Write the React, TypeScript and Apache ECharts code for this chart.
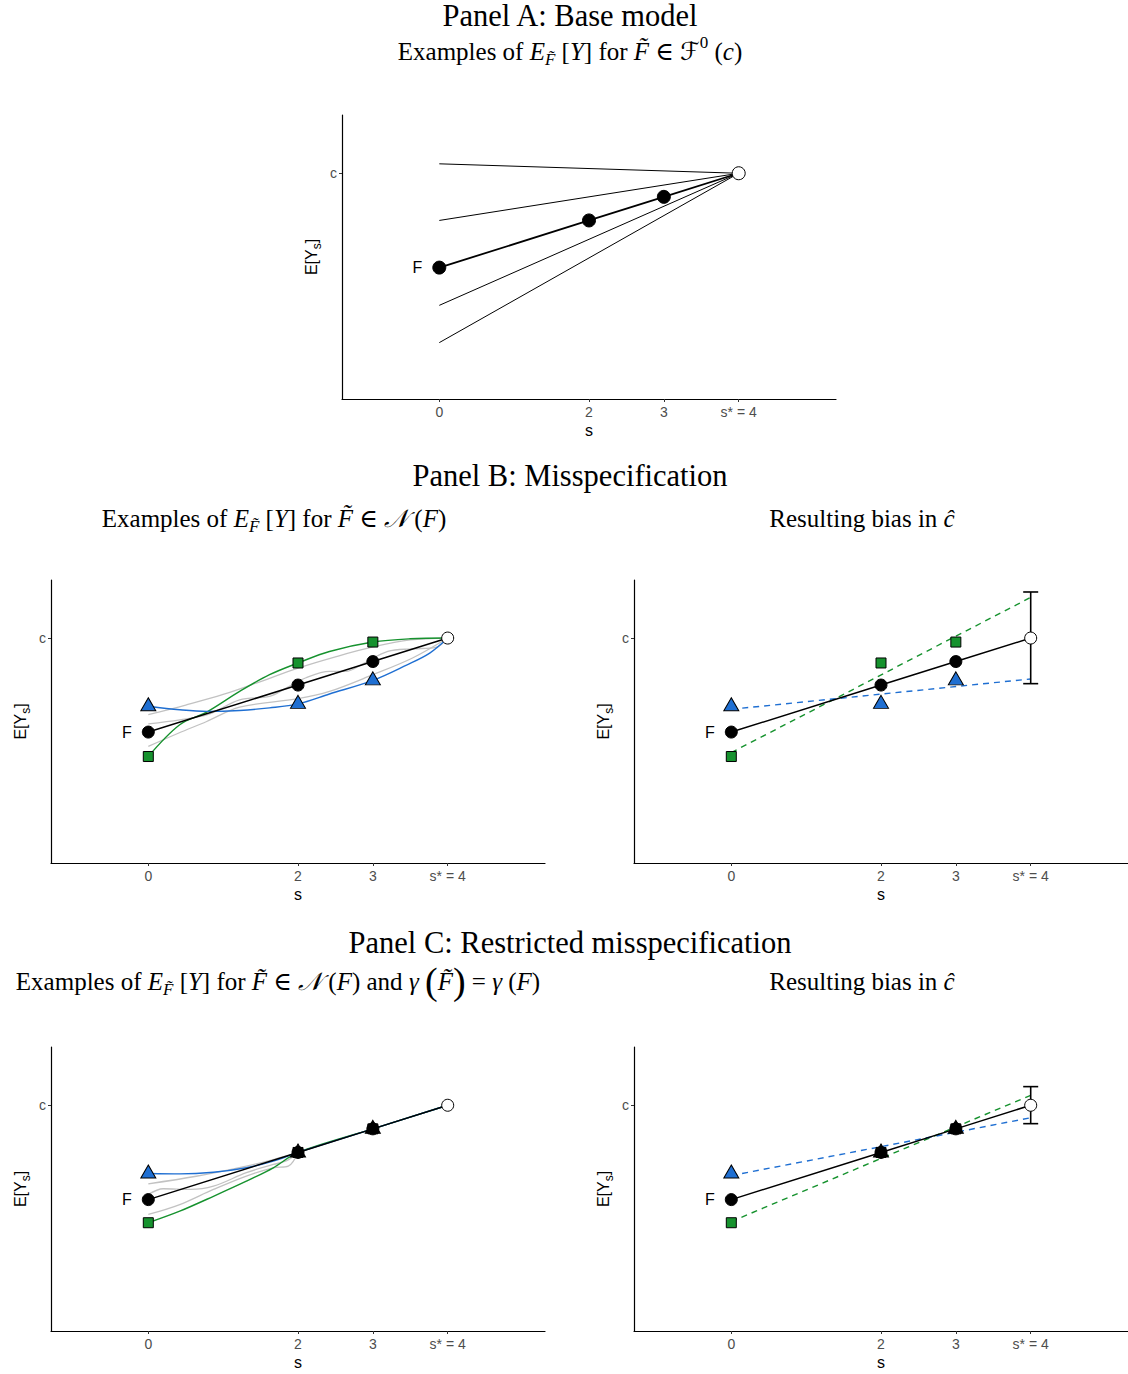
import React, { useEffect, useRef } from "react";
import * as echarts from "echarts";

// ---------- shared scale ----------
const S_TICKS = [0, 2, 3, 4];
const Y_TICKS = [4];
const C_LEVEL = 4;
const X_MIN = -1.3;
const X_MAX = 5.3;
const Y_MIN = -5.57;
const Y_MAX = 6.47;

// ---------- Panel A ----------
const A_F_S = [0, 2, 3, 4];
const A_F_Y = [0, 2, 3, 4];
const A_ALT_START = [4.4, 2.0, -1.6, -3.18];

// ---------- Panel B ----------
const B_F_S = [0, 2, 3, 4];
const B_F_Y = [0, 2, 3, 4];
const B_PT_S = [0, 2, 3];
const B_GREEN_PTS = [-1.04, 2.94, 3.83];
const B_BLUE_PTS = [1.1, 1.2, 2.2];
const B_GREEN_CURVE_S = [0, 0.42, 0.78, 1.22, 1.62, 2, 2.42, 3, 3.5, 4];
const B_GREEN_CURVE_Y = [-1.04, 0.31, 0.85, 1.73, 2.44, 2.94, 3.43, 3.83, 3.97, 4];
const B_BLUE_CURVE_S = [0, 0.42, 0.78, 1.22, 1.62, 2, 2.42, 3, 3.45, 3.76, 4];
const B_BLUE_CURVE_Y = [1.1, 0.95, 0.88, 0.92, 1.03, 1.2, 1.62, 2.2, 2.85, 3.36, 4];
const B_GRAY1_S = [0, 0.5, 1, 1.5, 2, 2.5, 3, 3.5, 4];
const B_GRAY1_Y = [0.74, 1.15, 1.6, 2.15, 2.72, 3.2, 3.62, 3.92, 4];
const B_GRAY2_S = [0, 0.42, 0.8, 1.22, 1.62, 1.84, 2.1, 2.42, 2.64, 2.86, 3.2, 3.53, 3.84, 4];
const B_GRAY2_Y = [0.35, 0.52, 0.75, 1.37, 1.52, 1.87, 2.3, 2.58, 2.58, 2.89, 3.43, 3.54, 3.6, 4];
const B_GRAY3_S = [0, 0.4, 0.78, 1.22, 2, 2.42, 3, 3.53, 4];
const B_GRAY3_Y = [-0.61, -0.05, 0.45, 1.06, 1.42, 1.73, 2.44, 3.15, 4];
const B_BLUE_FIT = [0.97, 2.26];
const B_GREEN_FIT = [-0.87, 5.73];
const B_ERR = [2.06, 5.96];

// ---------- Panel C ----------
const C_F_S = [0, 2, 3, 4];
const C_F_Y = [0, 2, 3, 4];
const C_PT_S = [0, 2, 3];
const C_GREEN_PTS = [-0.98, 2, 3];
const C_BLUE_PTS = [1.11, 2, 3];
const C_BLUE_CURVE_S = [0, 0.42, 0.87, 1.31, 1.67, 2, 3, 4];
const C_BLUE_CURVE_Y = [1.11, 1.09, 1.16, 1.35, 1.63, 2, 3, 4];
const C_GREEN_CURVE_S = [0, 0.42, 0.87, 1.31, 1.67, 2, 3, 4];
const C_GREEN_CURVE_Y = [-0.98, -0.49, 0.14, 0.78, 1.35, 2, 3, 4];
const C_GRAY1_S = [0, 0.64, 1.31, 1.67, 2];
const C_GRAY1_Y = [0.67, 0.99, 1.42, 1.7, 2];
const C_GRAY2_S = [0, 0.2, 0.56, 0.87, 1.31, 1.67, 1.85, 2];
const C_GRAY2_Y = [0.22, 0.46, 0.43, 0.57, 1.14, 1.49, 1.65, 2];
const C_GRAY3_S = [0, 0.42, 0.87, 1.31, 1.67, 1.87, 2];
const C_GRAY3_Y = [-0.63, -0.21, 0.43, 1.0, 1.35, 1.42, 2];
const C_BLUE_FIT = [1.02, 3.47];
const C_GREEN_FIT = [-0.93, 4.42];
const C_ERR = [3.22, 4.79];

// ---------- styles ----------
const SERIF = '"Liberation Serif", "DejaVu Serif", serif';
const SANS = '"Liberation Sans", Arial, Helvetica, sans-serif';
const GREEN = "#16922e";
const BLUE = "#1f6fd2";
const GRAY = "#c2c2c2";

const GRIDS = [
  { left: 342, top: 115, width: 494, height: 284 },
  { left: 51, top: 580, width: 494, height: 283 },
  { left: 634, top: 580, width: 494, height: 283 },
  { left: 51, top: 1047, width: 494, height: 284 },
  { left: 634, top: 1047, width: 494, height: 284 },
];

const zip = (xs: number[], ys: number[]) => xs.map((x, k) => [x, ys[k]]);

function xAxisFor(i: number) {
  return {
    type: "value",
    gridIndex: i,
    min: X_MIN,
    max: X_MAX,
    name: "s",
    nameLocation: "middle",
    nameGap: 23,
    nameTextStyle: { fontSize: 16, color: "#000", fontFamily: SANS },
    axisLine: { show: true, onZero: false, lineStyle: { color: "#000", width: 1.2 } },
    axisTick: { show: true, customValues: S_TICKS, length: 3, lineStyle: { color: "#333" } },
    axisLabel: {
      show: true,
      customValues: S_TICKS,
      margin: 6,
      fontSize: 14,
      color: "#4d4d4d",
      fontFamily: SANS,
      formatter: (v: number) => (v === 4 ? "s* = 4" : String(v)),
    },
    splitLine: { show: false },
  };
}

function yAxisFor(i: number) {
  return {
    type: "value",
    gridIndex: i,
    min: Y_MIN,
    max: Y_MAX,
    name: "{b|E[Y}{s|s}{b|]}",
    nameLocation: "middle",
    nameGap: 19,
    nameTextStyle: {
      color: "#000",
      fontFamily: SANS,
      rich: {
        b: { fontSize: 16, color: "#000", fontFamily: SANS, verticalAlign: "top", padding: [0, 0, 0, 0] },
        s: { fontSize: 12, color: "#000", fontFamily: SANS, verticalAlign: "top", padding: [8, 0, 0, 0] },
      },
    },
    axisLine: { show: true, onZero: false, lineStyle: { color: "#000", width: 1.2 } },
    axisTick: { show: true, customValues: Y_TICKS, length: 3, lineStyle: { color: "#333" } },
    axisLabel: {
      show: true,
      customValues: Y_TICKS,
      margin: 5,
      fontSize: 14,
      color: "#4d4d4d",
      fontFamily: SANS,
      formatter: () => "c",
    },
    splitLine: { show: false },
  };
}

function lineS(gi: number, data: number[][], color: string, width: number, z: number, extra: any = {}) {
  return {
    type: "line",
    xAxisIndex: gi,
    yAxisIndex: gi,
    data,
    symbol: "none",
    showSymbol: false,
    silent: true,
    z,
    lineStyle: { color, width, type: extra.dash || "solid" },
    smooth: extra.smooth || false,
  };
}

function pts(gi: number, data: any[], symbol: string, size: any, fill: string, z: number, offset?: number[]) {
  return {
    type: "scatter",
    xAxisIndex: gi,
    yAxisIndex: gi,
    data,
    symbol,
    symbolSize: size,
    symbolOffset: offset || [0, 0],
    silent: true,
    z,
    itemStyle: { color: fill, borderColor: "#000", borderWidth: 1, opacity: 1 },
  };
}

function fPoints(gi: number, s: number[], y: number[], size: number) {
  const data: any[] = zip(s, y).map((p, k) =>
    k === 0
      ? {
          value: p,
          label: {
            show: true,
            position: "left",
            distance: 10,
            formatter: "F",
            fontSize: 16,
            color: "#000",
            fontFamily: SANS,
          },
        }
      : { value: p }
  );
  return pts(gi, data, "circle", size, "#000", 8);
}

function whitePoint(gi: number, size: number) {
  return pts(gi, [[4, C_LEVEL]], "circle", size, "#fff", 9);
}

function errBar(gi: number, range: number[]) {
  return {
    type: "custom",
    xAxisIndex: gi,
    yAxisIndex: gi,
    data: [[4, range[0], range[1]]],
    encode: { x: 0, y: [1, 2] },
    silent: true,
    z: 5,
    clip: false,
    renderItem: (_p: any, api: any) => {
      const x = api.value(0);
      const lo = api.coord([x, api.value(1)]);
      const hi = api.coord([x, api.value(2)]);
      const w = 7.5;
      const st = { stroke: "#000", lineWidth: 1.6 };
      return {
        type: "group",
        children: [
          { type: "line", shape: { x1: lo[0], y1: lo[1], x2: hi[0], y2: hi[1] }, style: st },
          { type: "line", shape: { x1: lo[0] - w, y1: lo[1], x2: lo[0] + w, y2: lo[1] }, style: st },
          { type: "line", shape: { x1: hi[0] - w, y1: hi[1], x2: hi[0] + w, y2: hi[1] }, style: st },
        ],
      };
    },
  };
}

function coloredPts(s: number[], y: number[], firstOnly: boolean, color: string) {
  return zip(s, y).map((p, k) =>
    firstOnly && k > 0 ? { value: p, itemStyle: { color: "#000" } } : { value: p, itemStyle: { color } }
  );
}

const TRI_SIZE = [15, 13];
const TRI_OFF = [0, -2];

function buildSeries() {
  const series: any[] = [];
  // Panel A
  A_ALT_START.forEach((st) => series.push(lineS(0, [[0, st], [4, C_LEVEL]], "#000", 1, 2)));
  series.push(lineS(0, zip(A_F_S, A_F_Y), "#000", 1.8, 3));
  series.push(fPoints(0, A_F_S.slice(0, 3), A_F_Y.slice(0, 3), 13));
  series.push(whitePoint(0, 13));

  // Panel B left
  series.push(lineS(1, zip(B_GRAY1_S, B_GRAY1_Y), GRAY, 1.3, 1, { smooth: 0.35 }));
  series.push(lineS(1, zip(B_GRAY2_S, B_GRAY2_Y), GRAY, 1.3, 1, { smooth: 0.35 }));
  series.push(lineS(1, zip(B_GRAY3_S, B_GRAY3_Y), GRAY, 1.3, 1, { smooth: 0.35 }));
  series.push(lineS(1, zip(B_GREEN_CURVE_S, B_GREEN_CURVE_Y), GREEN, 1.4, 2, { smooth: 0.35 }));
  series.push(lineS(1, zip(B_BLUE_CURVE_S, B_BLUE_CURVE_Y), BLUE, 1.4, 2, { smooth: 0.35 }));
  series.push(lineS(1, zip(B_F_S, B_F_Y), "#000", 1.5, 3));
  series.push(pts(1, coloredPts(B_PT_S, B_GREEN_PTS, false, GREEN), "rect", 10, GREEN, 6));
  series.push(pts(1, coloredPts(B_PT_S, B_BLUE_PTS, false, BLUE), "triangle", TRI_SIZE, BLUE, 6, TRI_OFF));
  series.push(fPoints(1, B_F_S.slice(0, 3), B_F_Y.slice(0, 3), 12));
  series.push(whitePoint(1, 12));

  // Panel B right
  series.push(lineS(2, [[0, B_GREEN_FIT[0]], [4, B_GREEN_FIT[1]]], GREEN, 1.4, 2, { dash: [6, 5] }));
  series.push(lineS(2, [[0, B_BLUE_FIT[0]], [4, B_BLUE_FIT[1]]], BLUE, 1.4, 2, { dash: [6, 5] }));
  series.push(errBar(2, B_ERR));
  series.push(lineS(2, zip(B_F_S, B_F_Y), "#000", 1.5, 3));
  series.push(pts(2, coloredPts(B_PT_S, B_GREEN_PTS, false, GREEN), "rect", 10, GREEN, 6));
  series.push(pts(2, coloredPts(B_PT_S, B_BLUE_PTS, false, BLUE), "triangle", TRI_SIZE, BLUE, 6, TRI_OFF));
  series.push(fPoints(2, B_F_S.slice(0, 3), B_F_Y.slice(0, 3), 12));
  series.push(whitePoint(2, 12));

  // Panel C left
  series.push(lineS(3, zip(C_GRAY1_S, C_GRAY1_Y), GRAY, 1.3, 1, { smooth: 0.35 }));
  series.push(lineS(3, zip(C_GRAY2_S, C_GRAY2_Y), GRAY, 1.3, 1, { smooth: 0.35 }));
  series.push(lineS(3, zip(C_GRAY3_S, C_GRAY3_Y), GRAY, 1.3, 1, { smooth: 0.35 }));
  series.push(lineS(3, zip(C_GREEN_CURVE_S, C_GREEN_CURVE_Y), GREEN, 1.4, 2, { smooth: 0.3 }));
  series.push(lineS(3, zip(C_BLUE_CURVE_S, C_BLUE_CURVE_Y), BLUE, 1.4, 2, { smooth: 0.3 }));
  series.push(lineS(3, zip(C_F_S, C_F_Y), "#000", 1.5, 3));
  series.push(pts(3, coloredPts(C_PT_S, C_GREEN_PTS, true, GREEN), "rect", 10, GREEN, 6));
  series.push(pts(3, coloredPts(C_PT_S, C_BLUE_PTS, true, BLUE), "triangle", TRI_SIZE, BLUE, 6, TRI_OFF));
  series.push(fPoints(3, C_F_S.slice(0, 3), C_F_Y.slice(0, 3), 12));
  series.push(whitePoint(3, 12));

  // Panel C right
  series.push(lineS(4, [[0, C_GREEN_FIT[0]], [4, C_GREEN_FIT[1]]], GREEN, 1.4, 2, { dash: [6, 5] }));
  series.push(lineS(4, [[0, C_BLUE_FIT[0]], [4, C_BLUE_FIT[1]]], BLUE, 1.4, 2, { dash: [6, 5] }));
  series.push(errBar(4, C_ERR));
  series.push(lineS(4, zip(C_F_S, C_F_Y), "#000", 1.5, 3));
  series.push(pts(4, coloredPts(C_PT_S, C_GREEN_PTS, true, GREEN), "rect", 10, GREEN, 6));
  series.push(pts(4, coloredPts(C_PT_S, C_BLUE_PTS, true, BLUE), "triangle", TRI_SIZE, BLUE, 6, TRI_OFF));
  series.push(fPoints(4, C_F_S.slice(0, 3), C_F_Y.slice(0, 3), 12));
  series.push(whitePoint(4, 12));
  return series;
}

// ---------- titles ----------
const SUB_FS = 25;
const RICH: any = {
  n: { fontFamily: SERIF, fontSize: SUB_FS, fill: "#000", verticalAlign: "top", padding: [7, 0, 0, 0] },
  i: { fontFamily: SERIF, fontSize: SUB_FS, fontStyle: "italic", fill: "#000", verticalAlign: "top", padding: [7, 0, 0, 0] },
  sub: { fontFamily: SERIF, fontSize: 17, fontStyle: "italic", fill: "#000", verticalAlign: "top", padding: [19, 0, 0, 0] },
  sup: { fontFamily: SERIF, fontSize: 17, fill: "#000", verticalAlign: "top", padding: [2, 0, 0, 0] },
  cal: { fontFamily: '"DejaVu Serif", "DejaVu Sans", serif', fontSize: SUB_FS, fontStyle: "italic", fill: "#000", verticalAlign: "top", padding: [7, 0, 0, 0] },
  big: { fontFamily: SERIF, fontSize: 38, fill: "#000", verticalAlign: "top", padding: [0, 0, 0, 0] },
};

const PANEL_TITLES = ["Panel A: Base model", "Panel B: Misspecification", "Panel C: Restricted misspecification"];
const SUB_A = "{n|Examples of }{i|E}{sub|F\u0303}{n| [}{i|Y}{n|] for }{i|F\u0303}{n| \u2208 }{cal|\u2131}{sup|0}{n| (}{i|c}{n|)}";
const SUB_BL = "{n|Examples of }{i|E}{sub|F\u0303}{n| [}{i|Y}{n|] for }{i|F\u0303}{n| \u2208 }{cal|\uD835\uDCA9}{n| (}{i|F}{n|)}";
const SUB_R = "{n|Resulting bias in }{i|c\u0302}";
const SUB_CL =
  "{n|Examples of }{i|E}{sub|F\u0303}{n| [}{i|Y}{n|] for }{i|F\u0303}{n| \u2208 }{cal|\uD835\uDCA9}{n| (}{i|F}{n|) and }{i|\u03B3}{n| }{big|(}{i|F\u0303}{big|)}{n| = }{i|\u03B3}{n| (}{i|F}{n|)}";

function titleText(text: string, x: number, y: number) {
  return {
    type: "text",
    x,
    y,
    silent: true,
    style: { text, fontFamily: SERIF, fontSize: 30.5, fill: "#000", align: "center", verticalAlign: "middle" },
  };
}
function richText(text: string, x: number, y: number) {
  return {
    type: "text",
    x,
    y,
    silent: true,
    style: { text, rich: RICH, fontFamily: SERIF, fontSize: SUB_FS, fill: "#000", align: "center", verticalAlign: "middle" },
  };
}

function buildOption() {
  return {
    animation: false,
    backgroundColor: "#fff",
    grid: GRIDS.map((g) => ({ ...g, containLabel: false })),
    xAxis: GRIDS.map((_, i) => xAxisFor(i)),
    yAxis: GRIDS.map((_, i) => yAxisFor(i)),
    series: buildSeries(),
    graphic: [
      titleText(PANEL_TITLES[0], 570, 16),
      richText(SUB_A, 570, 49.5),
      titleText(PANEL_TITLES[1], 570, 476),
      richText(SUB_BL, 274, 516.5),
      richText(SUB_R, 862, 514.5),
      titleText(PANEL_TITLES[2], 570, 942.5),
      richText(SUB_CL, 278, 981),
      richText(SUB_R, 862, 978),
    ],
  };
}

export default function App() {
  const ref = useRef<HTMLDivElement>(null);
  useEffect(() => {
    if (!ref.current) return;
    const chart = echarts.init(ref.current, null, { renderer: "svg" });
    chart.setOption(buildOption() as any);
    return () => chart.dispose();
  }, []);
  return (
    <div
      ref={ref}
      style={{ position: "absolute", left: 0, top: 0, width: 1128, height: 1374, background: "#fff" }}
    />
  );
}
